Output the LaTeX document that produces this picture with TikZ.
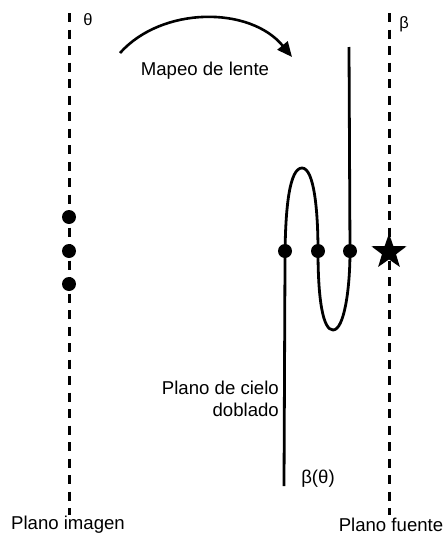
\documentclass[tikz,border=0pt]{standalone}
\usepackage{fontspec}
\setmainfont{Liberation Sans}
\usetikzlibrary{shapes.geometric,arrows.meta}
\begin{document}
\begin{tikzpicture}[x=1pt,y=-1pt,
  plane/.style={line width=3pt,dash pattern=on 9pt off 7.5pt},
  curve/.style={line width=2.8pt},
  dot/.style={circle,fill=black,inner sep=0pt,minimum size=14pt},
  lbl/.style={font=\fontsize{18.6}{22}\selectfont,inner sep=0pt}]
\useasboundingbox (0,0) rectangle (444,536);

% image plane and source plane
\coordinate (it) at (69,13);
\coordinate (ib) at (69,515);
\coordinate (st) at (389,13);
\coordinate (sb) at (389,515);
\draw[plane] (it) -- (ib);
\draw[plane] (st) -- (sb);

% images on the image plane
\node[dot] (i1) at (69,217) {};
\node[dot] (i2) at (69,251) {};
\node[dot] (i3) at (69,284) {};

% folded sky plane
\coordinate (fb) at (284,486);
\coordinate (ft) at (349,47);
\draw[curve] (fb) -- (285,262)
  .. controls (285,205) and (290,168) .. (302,168)
  .. controls (314,168) and (318,210) .. (318,251)
  .. controls (318,300) and (323,330) .. (333,330)
  .. controls (344,330) and (350,290) .. (350,251)
  -- (ft);
\node[dot] (c1) at (285,251) {};
\node[dot] (c2) at (318,251) {};
\node[dot] (c3) at (350,251) {};

% source
\node[star,star points=5,star point ratio=2.5,fill=black,inner sep=0pt,minimum size=37pt] (src) at (389,252) {};

% lens mapping arrow
\coordinate (a0) at (120,53);
\coordinate (a1) at (292,57);
\draw[line width=2.6pt,-{Triangle[length=15pt,width=13pt]}] (a0) .. controls (162,6) and (250,6) .. (a1);

% labels
\node[lbl,font=\fontsize{16.5}{20}\selectfont] (th) at (88,20) {θ};
\node[lbl,font=\fontsize{16.5}{20}\selectfont] (be) at (404,24) {β};
\node[lbl] (map) at (205,71) {Mapeo de lente};
\node[lbl,align=right,anchor=east] (fold) at (279,399) {Plano de cielo\\doblado};
\node[lbl] (bt) at (318,479) {β(θ)};
\node[lbl] (pi) at (68,525) {Plano imagen};
\node[lbl] (pf) at (391,525) {Plano fuente};
\end{tikzpicture}
\end{document}
